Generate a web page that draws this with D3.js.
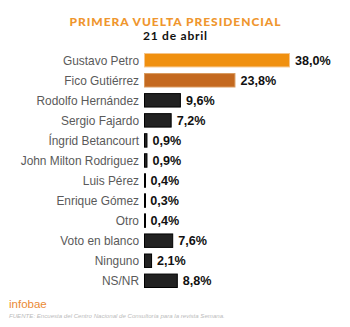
<!DOCTYPE html>
<html><head><meta charset="utf-8">
<script src="https://cdn.jsdelivr.net/npm/d3@7"></script>
<style>body{margin:0;background:#fff}svg{display:block}</style>
</head><body>
<svg id="c" width="350" height="327"></svg>
<script>
const categories = ["Gustavo Petro","Fico Gutiérrez","Rodolfo Hernández","Sergio Fajardo","Íngrid Betancourt","John Milton Rodriguez","Luis Pérez","Enrique Gómez","Otro","Voto en blanco","Ninguno","NS/NR"];
const values = [38.0,23.8,9.6,7.2,0.9,0.9,0.4,0.3,0.4,7.6,2.1,8.8];
const valueLabels = ["38,0%","23,8%","9,6%","7,2%","0,9%","0,9%","0,4%","0,3%","0,4%","7,6%","2,1%","8,8%"];
const title = "PRIMERA VUELTA PRESIDENCIAL";
const subtitle = "21 de abril";
const brand = "infobae";
const source = "FUENTE: Encuesta del Centro Nacional de Consultoría para la revista Semana.";

const svg = d3.select("#c");
const x0 = 144;
const x = d3.scaleLinear().domain([0, 38]).range([x0, 290]);
const y = d3.scaleBand().domain(categories).range([51, 290]).paddingInner(0.28).paddingOuter(0.1);

const fills = ["#f0900f", "#c4691f"];
const strokes = ["#f6c58a", "#d99a5e"];

const t1 = svg.append("text").attr("x", 175).attr("y", 25.5).attr("text-anchor","middle")
  .attr("font-family","Lato, sans-serif").attr("font-weight","900").attr("font-size",12)
  .attr("fill","#ef962e").text(title);
const t2 = svg.append("text").attr("x", 175).attr("y", 39.8).attr("text-anchor","middle")
  .attr("font-family","Lato, sans-serif").attr("font-weight","bold").attr("font-size",12)
  .attr("fill","#111").text(subtitle);
// spread letters to the reference widths
const spread = (t, w) => {
  const n = t.text().length;
  const cw = t.node().getComputedTextLength();
  const ls = (w - cw) / n;
  t.attr("letter-spacing", ls).attr("x", 175 + ls / 2);
};
spread(t1, 212); spread(t2, 65);

const g = svg.append("g");
g.selectAll("rect").data(categories).join("rect")
  .attr("x", x0 + 0.5)
  .attr("y", d => y(d) + 0.5)
  .attr("width", (d,i) => Math.max(x(values[i]) - x0 - 1, 1))
  .attr("height", y.bandwidth() - 1)
  .attr("fill", (d,i) => fills[i] || "#222")
  .attr("stroke", (d,i) => strokes[i] || "#000")
  .attr("stroke-width", 1);

g.selectAll("text.lab").data(categories).join("text").attr("class","lab")
  .attr("x", 139).attr("y", d => y(d) + y.bandwidth()/2)
  .attr("dy","0.36em").attr("text-anchor","end")
  .attr("font-family","Liberation Sans, Arial, sans-serif").attr("font-size",11.9)
  .attr("fill","#5a5a5a").text(d => d);

g.selectAll("text.val").data(categories).join("text").attr("class","val")
  .attr("x", (d,i) => x(values[i]) + 5).attr("y", d => y(d) + y.bandwidth()/2)
  .attr("dy","0.36em")
  .attr("font-family","Liberation Sans, Arial, sans-serif").attr("font-weight","bold").attr("font-size",12.6)
  .attr("fill","#111").text((d,i) => valueLabels[i]);

svg.append("text").attr("x", 9).attr("y", 308)
  .attr("font-family","Liberation Sans, Arial, sans-serif").attr("font-size",11.5)
  .attr("fill","#ea8a33").text(brand);
svg.append("text").attr("x", 9).attr("y", 318)
  .attr("font-family","Liberation Sans, Arial, sans-serif").attr("font-style","italic").attr("font-size",6.1)
  .attr("fill","#bbb").text(source);
</script>
</body></html>
